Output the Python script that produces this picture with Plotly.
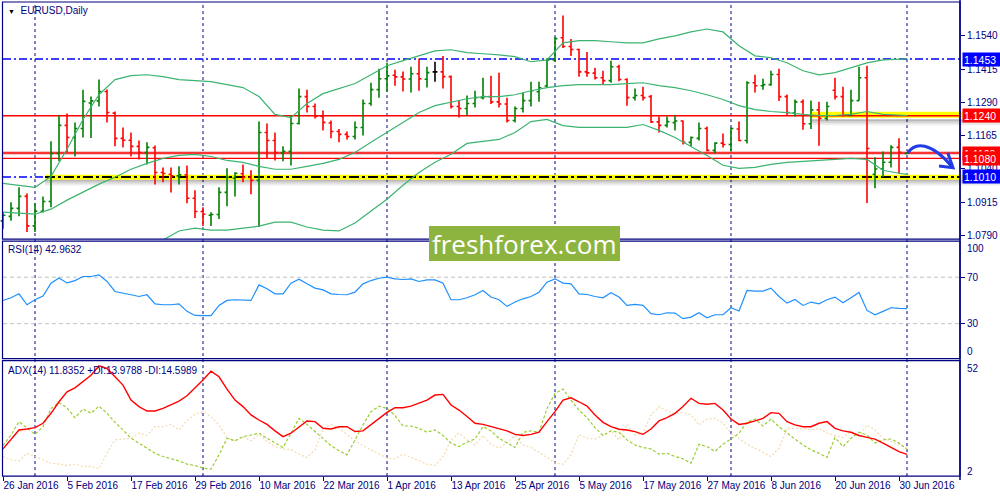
import plotly.graph_objects as go

NAVY = "#000080"

# EURUSD daily bars, one per trading day from 26 Jan 2016 to 1 Jul 2016
opens = [1.0845, 1.0862, 1.0892, 1.0937, 1.0826, 1.0881, 1.0918, 1.1098, 1.1204, 1.1158,
         1.1192, 1.1288, 1.1296, 1.1331, 1.1250, 1.1155, 1.1148, 1.1125, 1.1102, 1.1120,
         1.1027, 1.1020, 1.1014, 1.1018, 1.0930, 1.0880, 1.0866, 1.0869, 1.0952, 1.1005,
         1.1022, 1.1008, 1.0997, 1.1177, 1.1147, 1.1100, 1.1106, 1.1211, 1.1312, 1.1275,
         1.1237, 1.1213, 1.1181, 1.1170, 1.1162, 1.1196, 1.1286, 1.1338, 1.1379, 1.1392,
         1.1386, 1.1378, 1.1398, 1.1377, 1.1405, 1.1405, 1.1387, 1.1275, 1.1267, 1.1286,
         1.1308, 1.1312, 1.1292, 1.1284, 1.1222, 1.1267, 1.1297, 1.1330, 1.1352, 1.1450,
         1.1533, 1.1500, 1.1489, 1.1405, 1.1400, 1.1383, 1.1372, 1.1424, 1.1376, 1.1308,
         1.1316, 1.1312, 1.1217, 1.1204, 1.1214, 1.1220, 1.1140, 1.1155, 1.1192, 1.1110,
         1.1137, 1.1132, 1.1190, 1.1147, 1.1364, 1.1353, 1.1357, 1.1395, 1.1312, 1.1250,
         1.1292, 1.1210, 1.1262, 1.1230, 1.1336, 1.1312, 1.1243, 1.1297, 1.1383, 1.1020,
         1.1040, 1.1065, 1.1121, 1.1098]
highs = [1.0877, 1.0915, 1.0971, 1.0948, 1.0911, 1.0937, 1.1144, 1.1241, 1.1248, 1.1215,
         1.1338, 1.1312, 1.1376, 1.1339, 1.1256, 1.1196, 1.1177, 1.1147, 1.1140, 1.1128,
         1.1046, 1.1046, 1.1050, 1.1053, 1.0960, 1.0896, 1.0877, 1.0971, 1.1043, 1.1028,
         1.1057, 1.1035, 1.1218, 1.1211, 1.1177, 1.1125, 1.1241, 1.1342, 1.1338, 1.1286,
         1.1260, 1.1222, 1.1190, 1.1181, 1.1218, 1.1301, 1.1364, 1.1417, 1.1439, 1.1413,
         1.1406, 1.1424, 1.1454, 1.1424, 1.1443, 1.1465, 1.1391, 1.1297, 1.1316, 1.1334,
         1.1383, 1.1390, 1.1402, 1.1308, 1.1275, 1.1327, 1.1368, 1.1368, 1.1456, 1.1536,
         1.1617, 1.1528, 1.1492, 1.1480, 1.1420, 1.1409, 1.1447, 1.1432, 1.1381, 1.1342,
         1.1349, 1.1318, 1.1237, 1.1237, 1.1241, 1.1222, 1.1162, 1.1215, 1.1200, 1.1140,
         1.1173, 1.1196, 1.1218, 1.1370, 1.1394, 1.1379, 1.1409, 1.1417, 1.1320, 1.1301,
         1.1301, 1.1297, 1.1293, 1.1293, 1.1383, 1.1349, 1.1338, 1.1424, 1.1428, 1.1084,
         1.1106, 1.1129, 1.1155, 1.1104]
lows = [1.0815, 1.0845, 1.0862, 1.0803, 1.0803, 1.0876, 1.0896, 1.1069, 1.1102, 1.1087,
        1.1158, 1.1156, 1.1275, 1.1215, 1.1125, 1.1121, 1.1087, 1.1076, 1.1057, 1.0982,
        1.0990, 1.0952, 1.0982, 1.0911, 1.0856, 1.0826, 1.0826, 1.0852, 1.0900, 1.0937,
        1.0990, 1.0945, 1.0822, 1.1080, 1.1072, 1.1069, 1.1053, 1.1207, 1.1252, 1.1230,
        1.1185, 1.1155, 1.1140, 1.1151, 1.1151, 1.1166, 1.1278, 1.1308, 1.1331, 1.1353,
        1.1331, 1.1327, 1.1334, 1.1346, 1.1368, 1.1342, 1.1267, 1.1233, 1.1241, 1.1271,
        1.1301, 1.1284, 1.1271, 1.1215, 1.1215, 1.1252, 1.1275, 1.1293, 1.1345, 1.1443,
        1.1495, 1.1465, 1.1387, 1.1387, 1.1376, 1.1357, 1.1364, 1.1370, 1.1278, 1.1297,
        1.1297, 1.1213, 1.1177, 1.1196, 1.1185, 1.1132, 1.1125, 1.1147, 1.1106, 1.1098,
        1.1121, 1.1106, 1.1144, 1.1136, 1.1327, 1.1338, 1.1353, 1.1295, 1.1241, 1.1237,
        1.1187, 1.1190, 1.1127, 1.1222, 1.1301, 1.1237, 1.1238, 1.1296, 1.0912, 1.0968,
        1.1009, 1.1046, 1.1022, 1.1096]
closes = [1.0866, 1.0892, 1.0937, 1.0826, 1.0881, 1.0918, 1.1098, 1.1204, 1.1158, 1.1192,
          1.1294, 1.1296, 1.1331, 1.1252, 1.1155, 1.1148, 1.1125, 1.1102, 1.1121, 1.1027,
          1.1023, 1.1014, 1.1018, 1.0930, 1.0880, 1.0870, 1.0869, 1.0952, 1.1009, 1.1024,
          1.1009, 1.0997, 1.1177, 1.1147, 1.1102, 1.1106, 1.1211, 1.1312, 1.1275, 1.1237,
          1.1215, 1.1181, 1.1170, 1.1162, 1.1196, 1.1286, 1.1338, 1.1379, 1.1390, 1.1386,
          1.1378, 1.1398, 1.1379, 1.1402, 1.1405, 1.1387, 1.1275, 1.1267, 1.1286, 1.1308,
          1.1312, 1.1292, 1.1284, 1.1222, 1.1267, 1.1297, 1.1334, 1.1345, 1.1450, 1.1530,
          1.1500, 1.1489, 1.1405, 1.1401, 1.1383, 1.1372, 1.1424, 1.1376, 1.1308, 1.1316,
          1.1308, 1.1217, 1.1204, 1.1218, 1.1220, 1.1140, 1.1158, 1.1192, 1.1110, 1.1137,
          1.1132, 1.1192, 1.1147, 1.1364, 1.1353, 1.1357, 1.1395, 1.1312, 1.1252, 1.1292,
          1.1210, 1.1262, 1.1230, 1.1275, 1.1312, 1.1243, 1.1297, 1.1383, 1.1117, 1.1040,
          1.1065, 1.1121, 1.1103, 1.1100]

# bottom axis labels (every 8th bar) and first bar of each month
label_bars = [0, 8, 16, 24, 32, 40, 48, 56, 64, 72, 80, 88, 96, 104, 112]
date_labels = ["26 Jan 2016", "5 Feb 2016", "17 Feb 2016", "29 Feb 2016", "10 Mar 2016",
               "22 Mar 2016", "1 Apr 2016", "13 Apr 2016", "25 Apr 2016", "5 May 2016",
               "17 May 2016", "27 May 2016", "8 Jun 2016", "20 Jun 2016", "30 Jun 2016"]
month_bars = [4, 25, 48, 69, 91, 113]

# Bollinger bands (20,2), read every second bar
bb_bars = list(range(0, 113, 2)) + [113]
bb_upper = [1.0986, 1.0979, 1.0971, 1.1012, 1.1114, 1.1226, 1.1319, 1.1376, 1.1391, 1.1394,
            1.1387, 1.1376, 1.1372, 1.1368, 1.1357, 1.1346, 1.1312, 1.1245, 1.1233, 1.1286,
            1.1323, 1.1342, 1.1361, 1.1394, 1.1428, 1.1447, 1.1465, 1.1484, 1.1488, 1.1477,
            1.1473, 1.1469, 1.1462, 1.1443, 1.1450, 1.1514, 1.1522, 1.1522, 1.1518, 1.1514,
            1.1514, 1.1529, 1.1540, 1.1555, 1.1566, 1.1555, 1.1503, 1.1465, 1.1458, 1.1439,
            1.1409, 1.1394, 1.1402, 1.1420, 1.1439, 1.1450, 1.1454, 1.1454]
bb_middle = [1.0878, 1.0874, 1.0870, 1.0889, 1.0923, 1.0953, 1.0983, 1.1009, 1.1039, 1.1061,
             1.1080, 1.1091, 1.1095, 1.1087, 1.1072, 1.1065, 1.1050, 1.1039, 1.1039, 1.1050,
             1.1061, 1.1076, 1.1102, 1.1140, 1.1177, 1.1215, 1.1252, 1.1278, 1.1290, 1.1304,
             1.1312, 1.1312, 1.1319, 1.1334, 1.1346, 1.1353, 1.1357, 1.1357, 1.1357, 1.1361,
             1.1364, 1.1353, 1.1346, 1.1334, 1.1319, 1.1301, 1.1278, 1.1263, 1.1256, 1.1252,
             1.1245, 1.1241, 1.1241, 1.1245, 1.1256, 1.1245, 1.1241, 1.1241]
bb_lower = [1.0769, 1.0765, 1.0765, 1.0765, 1.0732, 1.0679, 1.0646, 1.0642, 1.0687, 1.0728,
            1.0773, 1.0807, 1.0818, 1.0810, 1.0810, 1.0818, 1.0825, 1.0840, 1.0840, 1.0822,
            1.0810, 1.0807, 1.0837, 1.0882, 1.0926, 1.0979, 1.1027, 1.1065, 1.1095, 1.1136,
            1.1143, 1.1151, 1.1177, 1.1218, 1.1226, 1.1203, 1.1196, 1.1196, 1.1196, 1.1196,
            1.1207, 1.1185, 1.1158, 1.1125, 1.1091, 1.1054, 1.1042, 1.1046, 1.1057, 1.1065,
            1.1069, 1.1072, 1.1076, 1.1080, 1.1076, 1.1035, 1.1024, 1.1020]

rsi = [50.0, 52.3, 55.7, 46.3, 50.6, 53.7, 64.9, 69.4, 65.1, 67.1,
       70.6, 70.6, 72.0, 66.3, 57.7, 56.6, 54.9, 53.4, 54.9, 47.1,
       46.3, 46.3, 47.1, 40.6, 37.1, 36.9, 36.9, 45.7, 50.0, 50.6,
       50.6, 50.0, 63.4, 60.0, 55.7, 55.7, 64.9, 68.3, 64.3, 60.6,
       59.1, 55.7, 55.1, 54.9, 57.1, 64.3, 67.1, 69.1, 70.0, 68.6,
       68.0, 68.6, 66.3, 67.7, 67.7, 64.9, 50.6, 50.6, 52.3, 54.9,
       58.6, 52.9, 50.6, 44.9, 48.6, 51.4, 53.4, 57.1, 65.7, 68.6,
       64.9, 64.3, 55.7, 55.1, 53.4, 52.3, 56.6, 52.9, 45.7, 46.6,
       45.7, 38.6, 37.7, 39.4, 39.1, 34.3, 35.7, 39.4, 35.1, 37.7,
       37.7, 43.7, 40.9, 58.6, 58.0, 58.0, 60.6, 53.4, 47.7, 50.9,
       45.7, 48.6, 47.1, 50.6, 52.9, 48.0, 52.3, 56.9, 41.4, 37.7,
       40.6, 43.7, 43.2, 42.96]

adx = [14.2, 18.1, 22.4, 22.8, 23.4, 25.3, 29.6, 34.6, 38.9, 40.6,
       43.2, 46.1, 50.1, 49.0, 45.4, 41.8, 35.3, 32.5, 30.6, 30.6,
       31.7, 33.2, 34.9, 37.2, 40.4, 44.0, 47.8, 45.4, 40.1, 35.3,
       32.5, 28.9, 26.7, 24.8, 22.0, 19.5, 21.0, 23.8, 26.3, 26.0,
       23.1, 22.8, 23.8, 23.8, 21.7, 22.0, 24.6, 27.4, 30.0, 32.0,
       32.0, 32.7, 33.9, 35.3, 37.5, 37.8, 33.2, 31.0, 28.2, 25.3,
       24.8, 23.8, 22.8, 22.0, 20.5, 20.0, 20.5, 21.4, 26.0, 30.3,
       35.3, 36.3, 34.6, 32.7, 28.9, 25.7, 23.8, 22.7, 22.4, 21.7,
       20.5, 22.8, 26.3, 27.7, 29.6, 32.5, 36.1, 33.9, 33.5, 33.9,
       31.0, 27.1, 24.8, 25.3, 26.3, 27.4, 29.9, 29.6, 26.0, 24.6,
       23.8, 23.8, 25.3, 26.0, 23.1, 22.0, 21.4, 20.0, 19.2, 18.4,
       16.7, 14.8, 13.0, 11.84]
plus_di = [15.6, 20.2, 26.0, 23.1, 20.5, 23.8, 31.7, 34.2, 32.0, 27.7,
           31.5, 29.6, 32.7, 29.6, 25.7, 22.4, 18.8, 16.7, 14.5, 12.3,
           10.9, 9.9, 9.0, 7.6, 7.0, 5.9, 5.4, 11.6, 18.8, 17.7,
           19.5, 20.2, 21.0, 18.8, 16.7, 14.8, 21.0, 27.4, 24.8, 21.7,
           18.5, 15.6, 13.4, 11.6, 18.1, 24.6, 30.3, 32.7, 31.7, 28.6,
           24.1, 24.1, 23.1, 21.4, 22.4, 20.0, 16.7, 15.2, 17.1, 18.5,
           23.8, 22.0, 18.8, 16.7, 14.8, 21.4, 22.0, 21.4, 31.7, 38.2,
           40.1, 35.3, 31.0, 27.7, 23.4, 20.0, 22.0, 21.4, 18.1, 15.9,
           14.8, 14.2, 11.9, 12.3, 10.9, 9.9, 8.0, 16.2, 15.2, 13.1,
           16.2, 18.5, 21.0, 25.7, 27.1, 24.1, 27.1, 23.8, 21.0, 18.4,
           15.9, 13.8, 12.3, 10.5, 19.1, 15.2, 18.8, 21.4, 20.2, 16.7,
           18.1, 18.5, 16.7, 13.98]
minus_di = [10.9, 9.5, 9.0, 12.3, 10.9, 9.5, 8.0, 7.6, 7.0, 7.6,
            6.6, 6.6, 5.6, 12.3, 18.1, 18.5, 18.8, 21.0, 20.0, 23.8,
            23.8, 24.8, 22.4, 26.3, 29.2, 30.3, 28.1, 24.6, 19.1, 17.7,
            19.5, 17.7, 20.5, 17.4, 15.2, 14.2, 13.8, 11.9, 10.5, 13.8,
            22.8, 24.8, 23.1, 20.5, 17.7, 15.6, 13.8, 12.3, 10.2, 9.9,
            11.9, 10.5, 9.0, 7.6, 7.0, 10.9, 18.1, 21.0, 18.1, 15.9,
            20.0, 16.2, 14.5, 16.7, 20.0, 15.9, 14.8, 12.8, 10.5, 8.0,
            7.6, 11.6, 20.5, 18.8, 18.5, 20.0, 22.0, 18.1, 24.8, 20.2,
            21.0, 28.9, 32.5, 30.6, 29.6, 30.0, 28.9, 24.6, 27.1, 27.4,
            25.3, 21.0, 18.8, 16.2, 14.5, 12.8, 10.9, 14.5, 23.1, 23.1,
            23.1, 22.4, 23.1, 21.0, 20.0, 19.1, 21.7, 19.5, 24.6, 22.4,
            18.8, 17.4, 16.2, 14.60]

price_ticks = [1.0790, 1.0915, 1.1040, 1.1165, 1.1290, 1.1415, 1.1540]
rsi_levels = [30, 70]

# drawn objects on the price chart
level_top = 1.1453      # blue dash-dot
level_res = 1.1240      # red, yellow highlight on the right
level_bid = 1.1100
level_mid = 1.1080
level_sup = 1.1010      # blue/black dash-dot with yellow highlight
px_step = 0.000374      # one screen pixel in price units (for shadows)

bars = list(range(len(opens)))
moving = [i for i in bars if opens[i] != closes[i]]
flat = [i for i in bars if opens[i] == closes[i]]

fig = go.Figure()

fig.add_trace(go.Ohlc(
    x=moving,
    open=[opens[i] for i in moving], high=[highs[i] for i in moving],
    low=[lows[i] for i in moving], close=[closes[i] for i in moving],
    increasing=dict(line=dict(color="#008000", width=1.6)),
    decreasing=dict(line=dict(color="#FF0000", width=1.6)),
    tickwidth=0.3, hoverinfo="skip", yaxis="y"))
fig.add_trace(go.Ohlc(
    x=flat,
    open=[opens[i] for i in flat], high=[highs[i] for i in flat],
    low=[lows[i] for i in flat], close=[closes[i] for i in flat],
    increasing=dict(line=dict(color="#000000", width=1.6)),
    decreasing=dict(line=dict(color="#000000", width=1.6)),
    tickwidth=0.3, hoverinfo="skip", yaxis="y"))

for band in (bb_upper, bb_middle, bb_lower):
    fig.add_trace(go.Scatter(x=bb_bars, y=band, mode="lines",
                             line=dict(color="#3CB371", width=1.2),
                             hoverinfo="skip", yaxis="y"))

fig.add_trace(go.Scatter(x=bars, y=rsi, mode="lines",
                         line=dict(color="#1E90FF", width=1.2), yaxis="y2"))

fig.add_trace(go.Scatter(x=bars, y=minus_di, mode="lines",
                         line=dict(color="#F5D9AE", width=1.2, dash="2px,2px"), yaxis="y3"))
fig.add_trace(go.Scatter(x=bars, y=plus_di, mode="lines",
                         line=dict(color="#9ACD32", width=1.2, dash="3px,2px"), yaxis="y3"))
fig.add_trace(go.Scatter(x=bars, y=adx, mode="lines",
                         line=dict(color="#FF0000", width=1.4), yaxis="y3"))

shapes = []


def hline(y, x0, x1, color, width, dash="solid", xref="paper", yref="y", layer="below"):
    shapes.append(dict(type="line", xref=xref, yref=yref, x0=x0, x1=x1, y0=y, y1=y,
                       line=dict(color=color, width=width, dash=dash), layer=layer))


# month separators across all panes
for b in month_bars:
    shapes.append(dict(type="line", xref="x", yref="paper", x0=b, x1=b, y0=0.044, y1=0.996,
                       line=dict(color=NAVY, width=1, dash="3px,3px"), layer="below"))

# rsi levels
for lv in rsi_levels:
    hline(lv, 0.003, 0.96, "#C0C0C0", 1, "4px,3px", yref="y2")

# highlight shadows and yellow marker bands
for off, a in ((3.5, 0.28), (5.5, 0.16), (7.5, 0.07)):
    hline(level_sup - off * px_step, 0.045, 1.0, "rgba(0,0,0,%.2f)" % a, 2)
    hline(level_res - 0.0004 - off * px_step, 0.812, 1.0, "rgba(0,0,0,%.2f)" % a, 2)
hline(level_sup - 0.0001, 0.045, 1.0, "#FFFF00", 5)
hline(level_res + 0.0004, 0.812, 1.0, "#FFFF00", 6)

hline(level_top, 0.003, 0.96, "#0000FF", 1.5, "8px,3px,2px,3px")
hline(level_sup, 0.003, 0.045, "#0000FF", 1.5, "8px,3px,2px,3px")
hline(level_sup, 0.045, 0.96, "#000000", 2, "10px,3px,3px,3px")
hline(level_res, 0.003, 0.96, "#FF0000", 1.5)
hline(level_bid, 0.003, 0.96, "#F6C6C6", 4)
hline(level_bid, 0.003, 0.96, "#FF0000", 1.5)
hline(level_mid, 0.003, 0.96, "#FF0000", 1.2)

# pane frames and the price axis line
for y0, y1 in ((0.52, 0.996), (0.28, 0.516), (0.044, 0.276)):
    shapes.append(dict(type="rect", xref="paper", yref="paper", x0=0.0025, x1=0.96,
                       y0=y0, y1=y1, line=dict(color=NAVY, width=1.2), layer="above"))
shapes.append(dict(type="line", xref="paper", yref="paper", x0=0.96, x1=0.96, y0=0.036, y1=1.0,
                   line=dict(color=NAVY, width=1.5), layer="above"))

# hand drawn forecast arrow
arrow = dict(type="path", xref="x", yref="y", layer="above",
             line=dict(color="#1F3CE6", width=3))
shapes.append(dict(arrow, path="M 113.1,1.1100 C 114.0,1.1142 116.0,1.1142 118.6,1.1049"))
shapes.append(dict(arrow, path="M 118.1,1.1100 L 118.75,1.1045 L 117.0,1.1051"))

# logo box
shapes.append(dict(type="rect", xref="paper", yref="paper", x0=0.429, x1=0.620,
                   y0=0.476, y1=0.546, fillcolor="#8DB43F", line=dict(width=0), layer="above"))

annotations = []


def price_tag(y, text, bg):
    annotations.append(dict(xref="paper", yref="y", x=0.9615, y=y, xanchor="left", yanchor="middle",
                            text=text, showarrow=False, bgcolor=bg, borderpad=1,
                            width=35, height=11, align="left",
                            font=dict(color="white", size=10.5, family="Liberation Sans")))


price_tag(level_top, "1.1453", "#0000FF")
price_tag(level_res, "1.1240", "#FF0000")
price_tag(level_bid, "1.1100", "#FF0000")
price_tag(level_mid, "1.1080", "#FF0000")
price_tag(level_sup, "1.1010", "#0000FF")


def text(x, y, s, **kw):
    d = dict(xref="paper", yref="paper", x=x, y=y, text=s, showarrow=False,
             xanchor="left", yanchor="middle", font=dict(color=NAVY, size=10))
    d.update(kw)
    annotations.append(d)


text(0.006, 0.979, "<span style='color:#000000;font-size:7px'>▼</span>  EURUSD,Daily")
text(0.006, 0.498, "RSI(14) 42.9632")
text(0.006, 0.256, "ADX(14) 11.8352 +DI:13.9788 -DI:14.5989")
text(0.965, 0.502, "100")
text(0.965, 0.294, "0")
text(0.965, 0.260, "52")
text(0.965, 0.054, "2")
text(0.5245, 0.511, "freshforex.com", xanchor="center",
     font=dict(color="white", size=26, family="Open Sans"))

axis_font = dict(color=NAVY, size=10, family="Liberation Sans")
fig.update_layout(
    width=1000, height=500,
    margin=dict(l=0, r=0, t=0, b=0),
    paper_bgcolor="white", plot_bgcolor="white",
    showlegend=False,
    font=dict(family="Liberation Sans", size=10, color=NAVY),
    xaxis=dict(domain=[0, 0.96], range=[-0.375, 119.625], anchor="y3",
               tickmode="array", tickvals=label_bars, ticktext=date_labels,
               tickangle=0, ticks="outside", ticklen=4, tickcolor=NAVY, tickfont=axis_font,
               ticklabelposition="outside right",
               showgrid=False, zeroline=False, showline=False,
               rangeslider=dict(visible=False)),
    yaxis=dict(domain=[0.52, 0.996], range=[1.07767, 1.16675], side="right", anchor="x",
               tickmode="array", tickvals=price_ticks, ticktext=["%.4f" % v for v in price_ticks],
               ticks="outside", ticklen=4, tickcolor=NAVY, tickfont=axis_font,
               showgrid=False, zeroline=False, showline=False),
    yaxis2=dict(domain=[0.28, 0.5134], range=[0, 100], side="right", anchor="x",
                tickmode="array", tickvals=[30, 70], ticks="outside", ticklen=4,
                tickcolor=NAVY, tickfont=axis_font,
                showgrid=False, zeroline=False, showline=False),
    yaxis3=dict(domain=[0.044, 0.276], range=[2.43, 52.43], side="right", anchor="x",
                tickmode="array", tickvals=[], showgrid=False, zeroline=False, showline=False),
    shapes=shapes,
    annotations=annotations,
)

# the page body has a default margin; remove it so the chart sits at the window corner
fig.write_html("out.html", config={"displayModeBar": False},
               post_script="document.body.style.margin='0';"
                           "document.body.style.overflow='hidden';")
